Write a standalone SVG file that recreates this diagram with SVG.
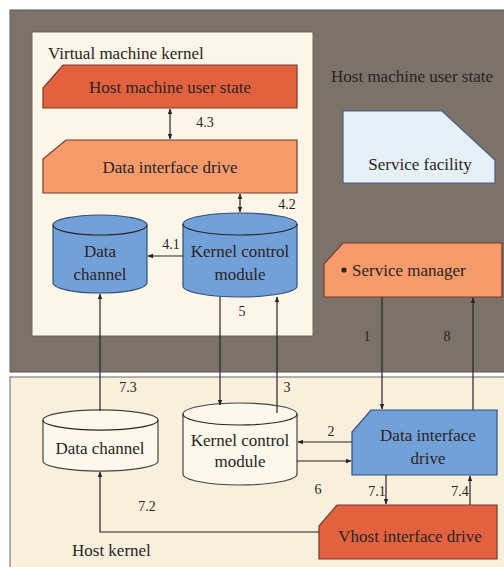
<svg xmlns="http://www.w3.org/2000/svg" width="504" height="567" viewBox="0 0 504 567">
<style>
text{font-family:"Liberation Serif","Times New Roman",serif;fill:#2b2422;font-size:17px}
.c{text-anchor:middle}
.s{font-size:14px}
.red{fill:#e2623f;stroke:#7a3a28;stroke-width:1.2}
.org{fill:#f59b6c;stroke:#7a3a28;stroke-width:1.2}
.blu{fill:#72a0d8;stroke:#33507a;stroke-width:1.2}
.wht{fill:#fdf8ec;stroke:#4a4440;stroke-width:1.2}
.ln{fill:none;stroke:#2b2422;stroke-width:1.2}
</style>
<defs>
<marker id="a" viewBox="0 0 10 10" refX="9" refY="5" markerWidth="6" markerHeight="6" orient="auto-start-reverse" markerUnits="userSpaceOnUse"><path d="M0,1 L10,5 L0,9 z" fill="#2b2422"/></marker>
</defs>
<rect width="504" height="567" fill="#ffffff"/>
<g id="host-user-panel">
<rect x="10" y="10" width="496" height="362" fill="#7b726a" stroke="#5e5650" stroke-width="1"/>
<text x="412" y="82" class="c" font-family="Liberation Serif, serif">Host machine user state</text>
</g>
<g id="host-kernel-panel">
<rect x="10" y="377" width="496" height="192" fill="#f8efdc" stroke="#6e6660" stroke-width="1"/>
<text x="72" y="556" font-family="Liberation Serif, serif">Host kernel</text>
</g>
<g id="vm-kernel">
<rect x="32" y="32" width="281" height="304" fill="#fbf6e8" stroke="#6e6660" stroke-width="1"/>
<text x="48" y="59" font-family="Liberation Serif, serif">Virtual machine kernel</text>
</g>
<g id="vm-host-user-state">
<polygon class="red" points="63,65 297,65 297,108 43,108 43,88"/>
<text x="170" y="93" class="c" font-family="Liberation Serif, serif">Host machine user state</text>
</g>
<g id="vm-data-interface-drive">
<polygon class="org" points="66,140 297,140 297,193 43,193 43,159"/>
<text x="170" y="173" class="c" font-family="Liberation Serif, serif">Data interface drive</text>
</g>
<g id="vm-data-channel">
<path class="blu" d="M53,225 A47,10 0 0 1 147,225 L147,283 A47,10 0 0 1 53,283 Z"/>
<path class="ln" d="M53,225 A47,10 0 0 0 147,225" stroke="#33507a"/>
<text x="100" y="257" class="c" font-family="Liberation Serif, serif">Data</text>
<text x="100" y="280" class="c" font-family="Liberation Serif, serif">channel</text>
</g>
<g id="vm-kernel-control">
<path class="blu" d="M183,224 A57,11 0 0 1 297,224 L297,286 A57,11 0 0 1 183,286 Z"/>
<path class="ln" d="M183,224 A57,11 0 0 0 297,224" stroke="#33507a"/>
<text x="240" y="257" class="c" font-family="Liberation Serif, serif">Kernel control</text>
<text x="240" y="280" class="c" font-family="Liberation Serif, serif">module</text>
</g>
<g id="service-facility">
<polygon points="343,111 442,111 495,160 495,183 343,183" fill="#e6f0f7" stroke="#4c5a80" stroke-width="1.2"/>
<text x="420" y="170" class="c" font-family="Liberation Serif, serif">Service facility</text>
</g>
<g id="service-manager">
<polygon class="org" points="343,243 502,243 502,297 324,297 324,264"/>
<circle cx="344" cy="270" r="2.6" fill="#2b2422"/>
<text x="352" y="276" font-family="Liberation Serif, serif">Service manager</text>
</g>
<g id="hk-data-channel">
<path class="wht" d="M43,420 A57,10 0 0 1 158,420 L158,461 A57,10 0 0 1 43,461 Z"/>
<path class="ln" d="M43,420 A57,10 0 0 0 158,420"/>
<text x="100" y="454" class="c" font-family="Liberation Serif, serif">Data channel</text>
</g>
<g id="hk-kernel-control">
<path class="wht" d="M183,414 A57,11 0 0 1 297,414 L297,474 A57,11 0 0 1 183,474 Z"/>
<path class="ln" d="M183,414 A57,11 0 0 0 297,414"/>
<text x="240" y="446" class="c" font-family="Liberation Serif, serif">Kernel control</text>
<text x="240" y="467" class="c" font-family="Liberation Serif, serif">module</text>
</g>
<g id="hk-data-interface-drive">
<polygon class="blu" points="371,410 497,410 497,475 352,475 352,432"/>
<text x="428" y="441" class="c" font-family="Liberation Serif, serif">Data interface</text>
<text x="428" y="464" class="c" font-family="Liberation Serif, serif">drive</text>
</g>
<g id="vhost-interface-drive">
<polygon class="red" points="337,505 497,505 497,559 319,559 319,526"/>
<text x="410" y="542" class="c" font-family="Liberation Serif, serif">Vhost interface drive</text>
</g>
<g id="connectors">
<line class="ln" x1="170" y1="109" x2="170" y2="139" marker-start="url(#a)" marker-end="url(#a)"/>
<line class="ln" x1="240" y1="194" x2="240" y2="212" marker-start="url(#a)" marker-end="url(#a)"/>
<line class="ln" x1="183" y1="256" x2="148" y2="256" marker-end="url(#a)"/>
<line class="ln" x1="220" y1="297" x2="220" y2="405" marker-end="url(#a)"/>
<line class="ln" x1="277" y1="413" x2="277" y2="297" marker-end="url(#a)"/>
<line class="ln" x1="100" y1="411" x2="100" y2="294" marker-end="url(#a)"/>
<line class="ln" x1="382" y1="297" x2="382" y2="409" marker-end="url(#a)"/>
<line class="ln" x1="473" y1="410" x2="473" y2="298" marker-end="url(#a)"/>
<line class="ln" x1="352" y1="442" x2="298" y2="442" marker-end="url(#a)"/>
<line class="ln" x1="297" y1="461" x2="351" y2="461" marker-end="url(#a)"/>
<line class="ln" x1="386" y1="475" x2="386" y2="504" marker-end="url(#a)"/>
<line class="ln" x1="470" y1="505" x2="470" y2="476" marker-end="url(#a)"/>
<polyline class="ln" points="319,532 100,532 100,472" marker-end="url(#a)"/>
<text x="205" y="127" class="c s" font-family="Liberation Serif, serif">4.3</text>
<text x="287" y="209" class="c s" font-family="Liberation Serif, serif">4.2</text>
<text x="171" y="249" class="c s" font-family="Liberation Serif, serif">4.1</text>
<text x="242" y="316" class="c s" font-family="Liberation Serif, serif">5</text>
<text x="287" y="392" class="c s" font-family="Liberation Serif, serif">3</text>
<text x="128" y="392" class="c s" font-family="Liberation Serif, serif">7.3</text>
<text x="367" y="341" class="c s" font-family="Liberation Serif, serif">1</text>
<text x="447" y="341" class="c s" font-family="Liberation Serif, serif">8</text>
<text x="331" y="436" class="c s" font-family="Liberation Serif, serif">2</text>
<text x="318" y="494" class="c s" font-family="Liberation Serif, serif">6</text>
<text x="377" y="496" class="c s" font-family="Liberation Serif, serif">7.1</text>
<text x="460" y="496" class="c s" font-family="Liberation Serif, serif">7.4</text>
<text x="147" y="511" class="c s" font-family="Liberation Serif, serif">7.2</text>
</g>
</svg>
